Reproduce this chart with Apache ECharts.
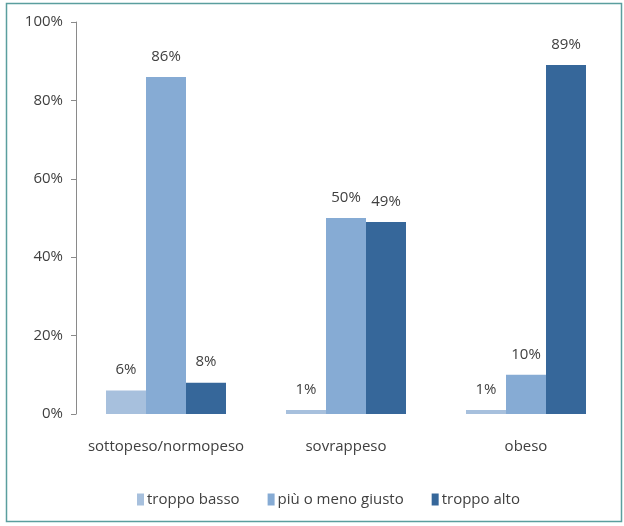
<!DOCTYPE html>
<html>
<head>
<meta charset="utf-8">
<script src="https://cdn.jsdelivr.net/npm/echarts@6/dist/echarts.min.js"></script>
<style>
  html, body { margin: 0; padding: 0; background: #ffffff; }
  #chart { width: 624px; height: 526px; }
</style>
</head>
<body>
<div id="chart"></div>
<script>
// Percentuale di risposte per categoria di peso
const categories = ['sottopeso/normopeso', 'sovrappeso', 'obeso'];
const seriesNames = ['troppo basso', 'più o meno giusto', 'troppo alto'];
const troppoBasso = [6, 1, 1];
const piuOMenoGiusto = [86, 50, 10];
const troppoAlto = [8, 49, 89];
const colors = ['#a7c0dd', '#86abd4', '#36679a'];

const chart = echarts.init(document.getElementById('chart'), null, { renderer: 'canvas' });

const textColor = '#404040';
const font = 'Open Sans';
const fontSize = 15;

function barSeries(name, data, color) {
  return {
    name: name,
    type: 'bar',
    data: data,
    barWidth: 40,
    barGap: '0%',
    itemStyle: { color: color },
    label: {
      show: true,
      position: 'top',
      distance: 13,
      formatter: '{c}%',
      color: textColor,
      fontFamily: font,
      fontSize: fontSize
    }
  };
}

chart.setOption({
  backgroundColor: '#ffffff',
  animation: false,
  graphic: [{
    type: 'rect',
    shape: { x: 6.5, y: 3.5, width: 615, height: 518 },
    style: { fill: 'none', stroke: '#5a9e9e', lineWidth: 1.5 },
    silent: true
  }],
  grid: { left: 76, right: 8, top: 22, bottom: 112 },
  legend: {
    bottom: 14,
    left: 132,
    itemWidth: 7,
    itemHeight: 12,
    itemGap: 28,
    icon: 'rect',
    textStyle: { color: textColor, fontFamily: font, fontSize: fontSize, padding: [0, 0, 0, -2] },
    data: seriesNames
  },
  xAxis: {
    type: 'category',
    data: categories,
    axisLine: { show: false },
    axisTick: { show: false },
    axisLabel: { interval: 0, color: textColor, fontFamily: font, fontSize: fontSize, margin: 25 }
  },
  yAxis: {
    type: 'value',
    min: 0,
    max: 100,
    interval: 20,
    axisLine: { show: true, lineStyle: { color: '#8a8a8a', width: 1 } },
    axisTick: { show: true, length: 5, lineStyle: { color: '#8a8a8a' } },
    splitLine: { show: false },
    axisLabel: { color: textColor, fontFamily: font, fontSize: fontSize, margin: 13, formatter: '{value}%' }
  },
  series: [
    barSeries(seriesNames[0], troppoBasso, colors[0]),
    barSeries(seriesNames[1], piuOMenoGiusto, colors[1]),
    barSeries(seriesNames[2], troppoAlto, colors[2])
  ]
});
</script>
</body>
</html>
